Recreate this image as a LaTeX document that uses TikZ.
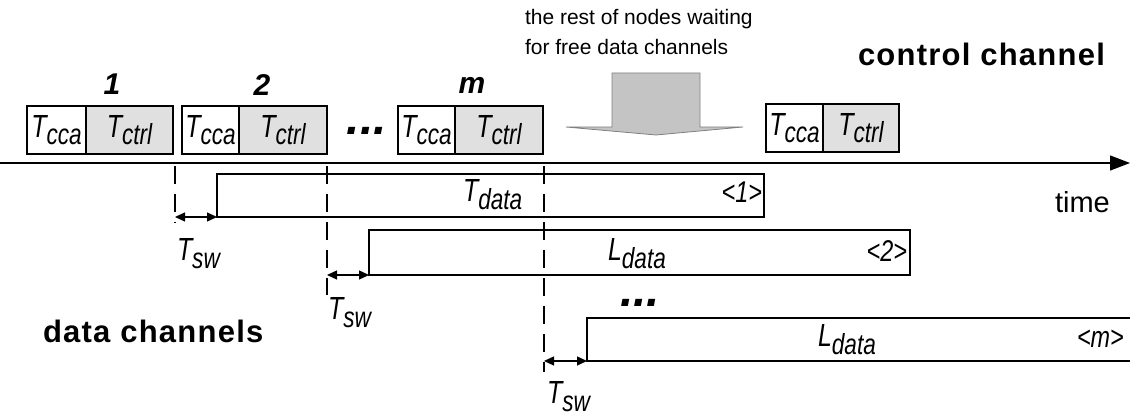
\documentclass[tikz,border=0pt]{standalone}
\usepackage{fontspec}
\setmainfont{Liberation Sans}
\newfontfamily\narrowfont[FakeStretch=0.78]{Liberation Sans}
\newfontfamily\capfont[LetterSpace=4]{Liberation Sans}
\usepackage{tikz}
\usetikzlibrary{positioning,arrows.meta}
\definecolor{ctrlGray}{HTML}{E0E0E0}
\definecolor{waitGray}{HTML}{C4C4C4}
\newcommand{\tsub}[2]{#1\raisebox{-7.5pt}{\fontsize{29}{29}\selectfont #2}}

\begin{document}
\begin{tikzpicture}[x=1pt,y=-1pt,line width=1.3pt,
    every node/.style={inner sep=0pt,outer sep=0pt},
    slot/.style={draw,minimum height=48pt,font=\narrowfont\itshape\fontsize{32}{32}\selectfont},
    ccabox/.style={slot,fill=white,minimum width=57pt},
    ctrlbox/.style={slot,fill=ctrlGray,minimum width=88pt},
    databox/.style={draw,anchor=north west,minimum height=44pt},
    lbl/.style={font=\narrowfont\itshape\fontsize{32}{32}\selectfont,anchor=base west},
    idx/.style={font=\narrowfont\itshape\fontsize{30}{30}\selectfont},
    num/.style={font=\bfseries\itshape\fontsize{30}{30}\selectfont},
    etc/.style={font=\bfseries\itshape\fontsize{48}{48}\selectfont},
    head/.style={font=\capfont\bfseries\fontsize{31}{31}\selectfont,anchor=base west},
    note/.style={font=\fontsize{21}{30}\selectfont,anchor=base west},
    guide/.style={dash pattern=on 18pt off 10pt},
    gap/.style={{Triangle[length=10pt,width=9pt]}-{Triangle[length=10pt,width=9pt]}}]
      \path[use as bounding box,clip] (0,0) rectangle (1130,419);

      % control channel
      \node[ccabox,minimum width=59pt,anchor=north west] (cca1) at (27,106) {\tsub{T}{cca}};
      \node[ctrlbox,minimum width=87pt,right=0pt of cca1] (ctrl1) {\tsub{T}{ctrl}};
      \node[ccabox,anchor=north west] (cca2) at (182,106) {\tsub{T}{cca}};
      \node[ctrlbox,right=0pt of cca2] (ctrl2) {\tsub{T}{ctrl}};
      \node[ccabox,anchor=north west] (ccam) at (398,106) {\tsub{T}{cca}};
      \node[ctrlbox,right=0pt of ccam] (ctrlm) {\tsub{T}{ctrl}};
      \node[ccabox,anchor=north west] (ccan) at (766,104) {\tsub{T}{cca}};
      \node[ctrlbox,minimum width=76pt,right=0pt of ccan] (ctrln) {\tsub{T}{ctrl}};
      \node[num] (n1) at (112,84) {1};
      \node[num] (n2) at (262,85) {2};
      \node[num] (nm) at (472,85) {m};
      \node[etc] (dots1) at (367,131) {...};
      \node[head] (cchan) at (858,66) {control channel};

      % nodes still waiting
      \filldraw[fill=waitGray,draw=gray,line width=0.8pt] (612,73) -- (700,73) -- (700,127)
        -- (743,127) -- (656,135) -- (566,127) -- (612,127) -- cycle;
      \node[note] (wait1) at (525,25) {the rest of nodes waiting};
      \node[note] (wait2) at (525,55) {for free data channels};

      % time axis
      \coordinate (t0) at (0,163);
      \coordinate (t1) at (1130,163);
      \draw[-{Triangle[length=20pt,width=15pt]}] (t0) -- (t1);
      \node[font=\fontsize{29}{30}\selectfont,anchor=base west] (time) at (1055,213) {time};

      % data channels
      \node[databox,minimum width=547pt,minimum height=43pt] (data1) at (217,174) {};
      \node[databox,minimum width=541pt,minimum height=45pt] (data2) at (369,230) {};
      \node[databox,minimum width=570pt,minimum height=43pt] (data3) at (587,318) {};
      \node[lbl] (tdata) at (463,202) {\tsub{T}{data}};
      \node[lbl] (ldata2) at (608,261) {\tsub{L}{data}};
      \node[lbl] (ldata3) at (818,347) {\tsub{L}{data}};
      \node[idx,anchor=base east] (id1) at (762,203) {<1>};
      \node[idx,anchor=base east] (id2) at (907,262) {<2>};
      \node[idx,anchor=base west] (idm) at (1077,348) {<m>};
      \node[etc] (dots2) at (640,303) {...};
      \node[head] (dchan) at (43,343) {data channels};

      % switching times
      \coordinate (g1a) at (175,166);
      \coordinate (g1b) at (175,223);
      \coordinate (g2a) at (327,166);
      \coordinate (g2b) at (327,295);
      \coordinate (g3a) at (544,166);
      \coordinate (g3b) at (544,372);
      \draw[guide] (g1a) -- (g1b);
      \draw[guide] (g2a) -- (g2b);
      \draw[guide] (g3a) -- (g3b);
      \draw[gap] (g1a |- data1.south) -- (data1.south west);
      \draw[gap] (g2a |- data2.south) -- (data2.south west);
      \draw[gap] (g3a |- data3.south) -- (data3.south west);
      \node[lbl] (sw1) at (177,261) {\tsub{T}{sw}};
      \node[lbl] (sw2) at (328,320) {\tsub{T}{sw}};
      \node[lbl] (sw3) at (547,404) {\tsub{T}{sw}};
    \end{tikzpicture}
\end{document}
